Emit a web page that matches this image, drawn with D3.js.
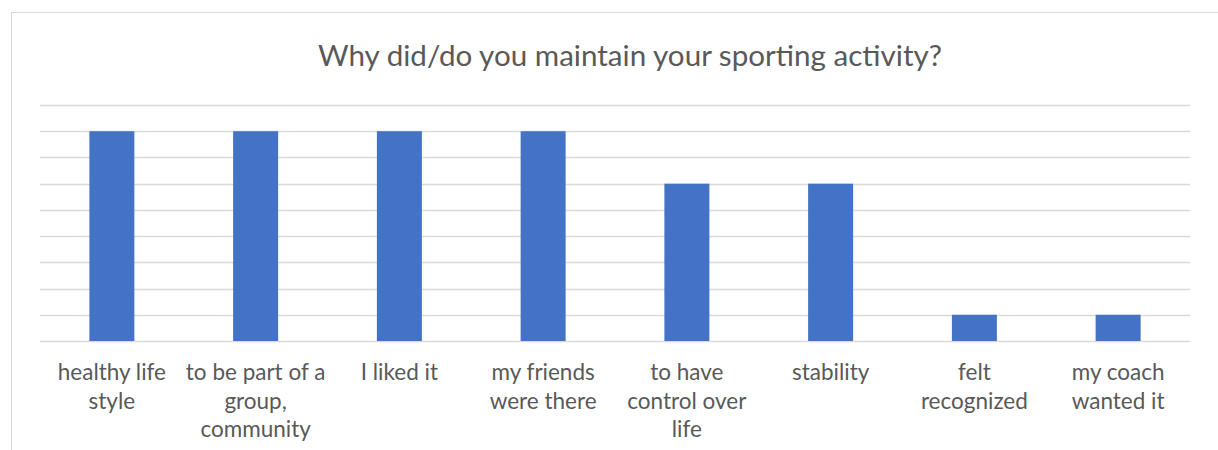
<!DOCTYPE html>
<html>
<head>
<meta charset="utf-8">
<script src="https://cdn.jsdelivr.net/npm/d3@7"></script>
<style>
  html, body { margin: 0; padding: 0; background: #ffffff; }
  svg { display: block; }
  text { font-family: Lato, "Open Sans", sans-serif; fill: #595959; }
</style>
</head>
<body>
<svg id="chart" width="1218" height="450"></svg>
<script>
const categories = [
  "healthy life\nstyle",
  "to be part of a\ngroup,\ncommunity",
  "I liked it",
  "my friends\nwere there",
  "to have\ncontrol over\nlife",
  "stability",
  "felt\nrecognized",
  "my coach\nwanted it"
];
const values = [8, 8, 8, 8, 6, 6, 1, 1];
const gridTicks = [0, 1, 2, 3, 4, 5, 6, 7, 8, 9];
const title = "Why did/do you maintain your sporting activity?";

const svg = d3.select("#chart");
const plot = { left: 40, right: 1190, top: 105, bottom: 341 };

// frame
svg.append("rect")
  .attr("x", 11.5).attr("y", 12.5)
  .attr("width", 1260).attr("height", 460)
  .attr("fill", "#ffffff").attr("stroke", "#d9d9d9").attr("stroke-width", 1);

const x = d3.scaleBand()
  .domain(categories)
  .range([plot.left, plot.right])
  .paddingInner(0.687)
  .paddingOuter(0.3435);

const y = d3.scaleLinear()
  .domain([0, 9])
  .range([plot.bottom, plot.top]);

// gridlines
svg.append("g").selectAll("line")
  .data(gridTicks)
  .join("line")
  .attr("x1", plot.left).attr("x2", plot.right)
  .attr("y1", d => Math.round(y(d)) + 0.5)
  .attr("y2", d => Math.round(y(d)) + 0.5)
  .attr("stroke", "#d9d9d9").attr("stroke-width", 1.5);

// bars
svg.append("g").selectAll("rect")
  .data(values)
  .join("rect")
  .attr("x", (d, i) => x(categories[i]))
  .attr("width", x.bandwidth())
  .attr("y", d => y(d))
  .attr("height", d => y(0) - y(d))
  .attr("fill", "#4472c4");

// x labels
const lab = svg.append("g");
categories.forEach(c => {
  const t = lab.append("text")
    .attr("text-anchor", "middle")
    .attr("font-size", "22.5px")
    .attr("x", x(c) + x.bandwidth() / 2)
    .attr("y", 380);
  c.split("\n").forEach((line, i) => {
    t.append("tspan")
      .attr("x", x(c) + x.bandwidth() / 2)
      .attr("y", 380 + i * 28.5)
      .text(line);
  });
});

// title
svg.append("text")
  .attr("x", 630).attr("y", 66)
  .attr("text-anchor", "middle")
  .attr("font-size", "29.6px")
  .text(title);
</script>
</body>
</html>
